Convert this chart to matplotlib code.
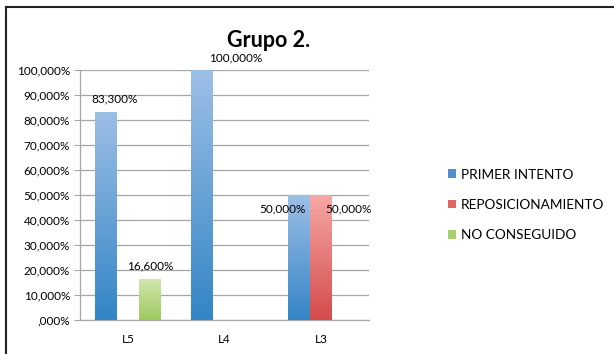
import numpy as np
import matplotlib
matplotlib.use("Agg")
import matplotlib.pyplot as plt
from matplotlib.colors import LinearSegmentedColormap
from matplotlib.lines import Line2D
from matplotlib.patches import Patch

categories = ["L5", "L4", "L3"]
series_names = ["PRIMER INTENTO", "REPOSICIONAMIENTO", "NO CONSEGUIDO"]
primer = [83.3, 100.0, 50.0]
reposicion = [0.0, 0.0, 50.0]
no_conseguido = [16.6, 0.0, 0.0]
yticks = [0, 10, 20, 30, 40, 50, 60, 70, 80, 90, 100]

# gradient colours (top, bottom) and legend colour
grads = [("#9DBFE6", "#3385C6"), ("#F6A8A6", "#D44B4A"), ("#D3E7B0", "#9CC95E")]
legend_cols = ["#4F8FD0", "#E06463", "#A9D06E"]

plt.rcParams["font.family"] = ["Lato", "DejaVu Sans"]

fig = plt.figure(figsize=(6.14, 3.54), dpi=100)
ax = fig.add_axes([0.130, 0.096, 0.471, 0.706])

x = np.arange(len(categories))
w = 0.228
values = [primer, reposicion, no_conseguido]

ax.set_xlim(-0.5, 2.5)
ax.set_ylim(0, 100)

for i, (vals, (top, bot)) in enumerate(zip(values, grads)):
    cmap = LinearSegmentedColormap.from_list("g%d" % i, [bot, top])
    bars = ax.bar(x + (i - 1) * w, vals, w, color="none", edgecolor="none", zorder=3)
    for b in bars:
        h = b.get_height()
        if h <= 0:
            continue
        x0 = b.get_x()
        grad = np.linspace(0, 1, 256).reshape(-1, 1)
        im = ax.imshow(grad, cmap=cmap, origin="lower", aspect="auto",
                       extent=[x0, x0 + b.get_width(), 0, h], zorder=3)
        im.set_clip_path(b)

# data labels (Excel-like placement)
lab_fmt = lambda v: f"{v:.3f}".replace(".", ",") + "%"
ax.annotate(lab_fmt(primer[0]), (x[0] - w, primer[0]), xytext=(6, 5),
            textcoords="offset points", ha="center", va="bottom", fontsize=8.5)
ax.annotate(lab_fmt(primer[1]), (x[1] - w, primer[1]), xytext=(24, 5),
            textcoords="offset points", ha="center", va="bottom", fontsize=8.5)
ax.annotate(lab_fmt(no_conseguido[0]), (x[0] + w, no_conseguido[0]), xytext=(0, 5),
            textcoords="offset points", ha="center", va="bottom", fontsize=8.5)
ax.annotate(lab_fmt(primer[2]), (x[2] - w, primer[2]), xytext=(-12, -10),
            textcoords="offset points", ha="center", va="center", fontsize=8.5)
ax.annotate(lab_fmt(reposicion[2]), (x[2], reposicion[2]), xytext=(20, -10),
            textcoords="offset points", ha="center", va="center", fontsize=8.5)

ax.set_yticks(yticks)
ax.set_yticklabels(["," + "000%" if v == 0 else f"{v},000%" for v in yticks], fontsize=8.5)
ax.set_xticks(x)
ax.set_xticklabels(categories, fontsize=8.5)
ax.tick_params(axis="x", length=0, pad=10)
ax.tick_params(axis="y", length=4, color="#A6A6A6", pad=3)
ax.grid(axis="y", color="#A6A6A6", lw=0.9, zorder=0)
ax.set_axisbelow(True)
for s in ["top", "right"]:
    ax.spines[s].set_visible(False)
for s in ["left", "bottom"]:
    ax.spines[s].set_color("#A6A6A6")
    ax.spines[s].set_linewidth(0.9)

fig.text(0.437, 0.885, "Grupo 2.", ha="center", va="center", fontsize=15.5, fontweight="bold")

handles = [Patch(facecolor=c, edgecolor="none") for c in legend_cols]
fig.legend(handles, series_names, loc="center left", bbox_to_anchor=(0.71, 0.421),
           frameon=False, fontsize=9.8, handlelength=0.6, handleheight=0.6,
           handletextpad=0.35, labelspacing=1.35)

# outer chart border (left and top edges visible)
fig.add_artist(Line2D([0.010, 0.010], [0, 0.980], transform=fig.transFigure, color="#222222", lw=1.5))
fig.add_artist(Line2D([0.010, 1.0], [0.980, 0.980], transform=fig.transFigure, color="#222222", lw=1.5))

fig.savefig("out.png", dpi=100)
